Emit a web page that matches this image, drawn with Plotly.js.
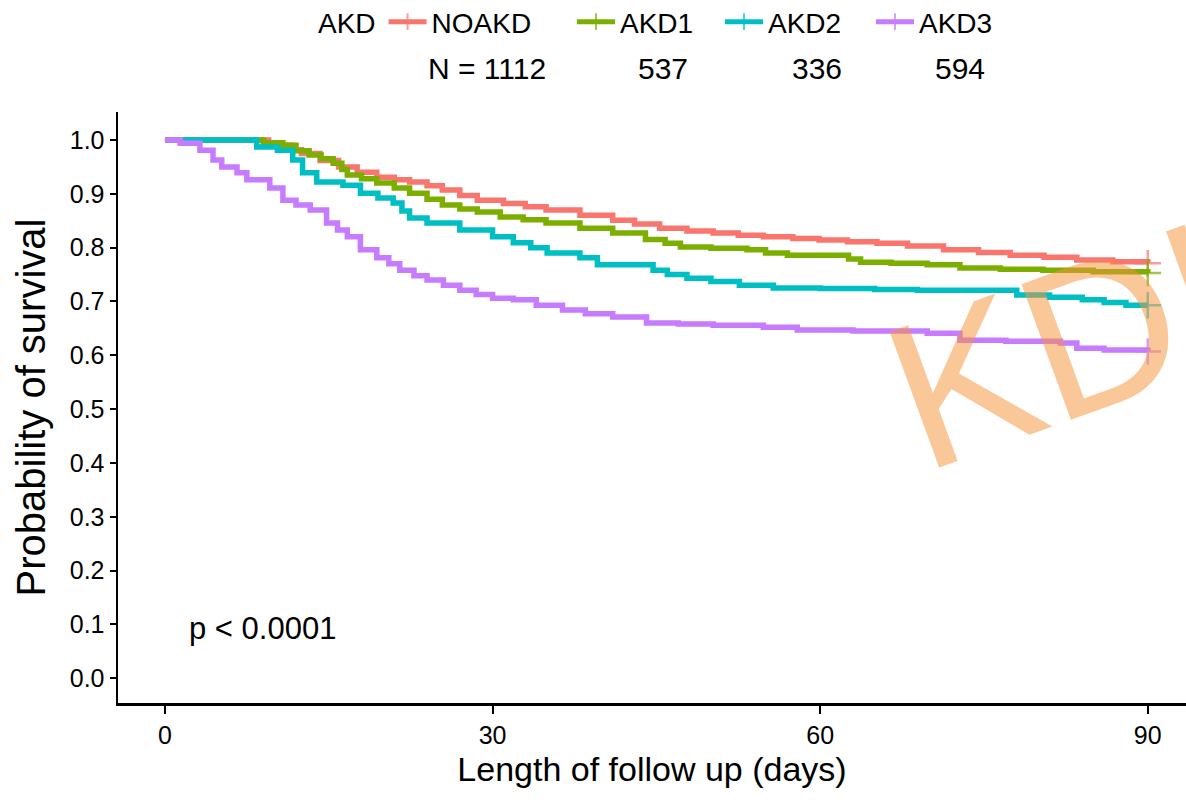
<!DOCTYPE html>
<html>
<head>
<meta charset="utf-8">
<script src="https://cdn.plot.ly/plotly-3.0.1.min.js"></script>
<style>html,body{margin:0;padding:0;background:#fff;}#chart{width:1186px;height:802px;}</style>
</head>
<body>
<div id="chart"></div>
<script>
// ---- data ----
var groupNames = ["NOAKD", "AKD1", "AKD2", "AKD3"];
var groupN = ["N = 1112", "537", "336", "594"];
var groupColors = ["#F8766D", "#7CAE00", "#00BFC4", "#C77CFF"];

var noakdTime = [0, 8.0, 9.5, 10.6, 11.6, 12.5, 14.2, 15.9, 17.6, 19.4, 21.0, 22.4, 24.0, 25.4, 27.0, 28.6, 31.0, 33.0, 34.9, 38.0, 41.0, 43.0, 45.3, 47.8, 50.2, 52.5, 54.8, 57.5, 59.9, 62.5, 65.2, 68.0, 71.3, 74.5, 77.4, 80.5, 83.5, 86.8, 90];
var noakdSurv = [1.0, 1.0, 0.995, 0.99, 0.982, 0.975, 0.962, 0.95, 0.94, 0.931, 0.926, 0.922, 0.915, 0.907, 0.897, 0.888, 0.882, 0.876, 0.87, 0.86, 0.851, 0.844, 0.836, 0.831, 0.827, 0.823, 0.82, 0.817, 0.814, 0.811, 0.808, 0.803, 0.796, 0.791, 0.786, 0.782, 0.777, 0.774, 0.771];

var akd1Time = [0, 7.8, 9.0, 10.8, 12.0, 13.2, 14.3, 15.4, 16.2, 16.7, 18.0, 19.4, 21.0, 22.4, 24.0, 25.4, 27.0, 28.6, 30.7, 32.8, 34.9, 38.0, 41.0, 44.0, 45.8, 47.2, 50.0, 53.3, 55.0, 57.0, 61.5, 62.6, 63.7, 66.5, 69.8, 72.8, 76.5, 80.4, 85.0, 90];
var akd1Surv = [1.0, 1.0, 0.995, 0.99, 0.98, 0.972, 0.965, 0.957, 0.945, 0.935, 0.928, 0.92, 0.911, 0.901, 0.89, 0.879, 0.872, 0.866, 0.857, 0.852, 0.846, 0.836, 0.827, 0.815, 0.808, 0.801, 0.799, 0.796, 0.79, 0.786, 0.786, 0.779, 0.773, 0.771, 0.768, 0.762, 0.76, 0.758, 0.755, 0.753];

var akd2Time = [0, 7.5, 8.4, 10.3, 11.7, 12.6, 13.9, 16.3, 17.9, 19.5, 20.9, 21.7, 22.4, 24.0, 27.0, 30.0, 31.9, 33.5, 35.0, 38.0, 39.6, 44.7, 46.0, 47.8, 50.0, 52.6, 55.7, 60.0, 65.0, 68.9, 75.5, 78.0, 81.0, 84.0, 86.0, 88.0, 90];
var akd2Surv = [1.0, 1.0, 0.987, 0.981, 0.963, 0.939, 0.922, 0.916, 0.901, 0.892, 0.883, 0.868, 0.855, 0.846, 0.833, 0.82, 0.809, 0.8, 0.79, 0.781, 0.768, 0.758, 0.75, 0.743, 0.737, 0.73, 0.725, 0.724, 0.722, 0.721, 0.721, 0.712, 0.708, 0.703, 0.698, 0.693, 0.693];

var akd3Time = [0, 1.4, 3.2, 4.4, 5.2, 6.6, 7.5, 9.6, 10.8, 12.0, 13.3, 14.8, 15.8, 16.7, 17.9, 19.4, 20.5, 21.5, 22.8, 24.0, 25.5, 27.0, 28.5, 30.0, 31.9, 34.0, 36.4, 38.5, 41.0, 44.1, 47.0, 50.2, 54.8, 57.9, 63.0, 69.8, 72.8, 77.0, 82.0, 83.5, 86.0, 90];
var akd3Surv = [1.0, 0.994, 0.981, 0.963, 0.95, 0.939, 0.926, 0.911, 0.888, 0.879, 0.87, 0.846, 0.833, 0.82, 0.796, 0.781, 0.77, 0.758, 0.748, 0.74, 0.73, 0.721, 0.713, 0.706, 0.703, 0.693, 0.684, 0.677, 0.671, 0.66, 0.658, 0.656, 0.652, 0.647, 0.645, 0.641, 0.628, 0.626, 0.623, 0.613, 0.61, 0.607];

var xTickVals = [0, 30, 60, 90];
var yTickVals = [0, 0.1, 0.2, 0.3, 0.4, 0.5, 0.6, 0.7, 0.8, 0.9, 1.0];
var yTickText = ["0.0", "0.1", "0.2", "0.3", "0.4", "0.5", "0.6", "0.7", "0.8", "0.9", "1.0"];
var pValueText = "p < 0.0001";
var xTitle = "Length of follow up (days)";
var yTitle = "Probability of survival";
var legendTitle = "AKD";
var watermark = "KDIGO";

// ---- build ----
var FONT = "Liberation Sans, Arial, sans-serif";
var times = [noakdTime, akd1Time, akd2Time, akd3Time];
var survs = [noakdSurv, akd1Surv, akd2Surv, akd3Surv];
var legendIds = ["legend", "legend2", "legend3", "legend4"];

var traces = [];
for (var i = 0; i < groupNames.length; i++) {
  var sizes = times[i].map(function (t, k, arr) { return k === arr.length - 1 ? 19 : 0; });
  traces.push({
    type: "scatter",
    mode: "lines+markers",
    name: groupNames[i],
    legend: legendIds[i],
    x: times[i],
    y: survs[i],
    line: { shape: "hv", color: groupColors[i], width: 5.5 },
    marker: { symbol: "cross-thin", size: sizes, color: groupColors[i],
              line: { color: groupColors[i], width: 2.5 } },
    hoverinfo: "x+y+name"
  });
}

function mkLegend(xpx, withTitle) {
  var l = {
    orientation: "h",
    xref: "container", yref: "container",
    x: xpx / 1186, y: 1 - 22 / 802,
    xanchor: "left", yanchor: "middle",
    font: { family: FONT, size: 28, color: "#000" },
    bgcolor: "rgba(0,0,0,0)",
    itemsizing: "constant",
    itemwidth: 38
  };
  if (withTitle) l.title = { text: legendTitle, side: "left", font: { family: FONT, size: 28, color: "#000" } };
  return l;
}

var nCenters = [487, 663, 817, 960];
var annotations = [];
for (var j = 0; j < groupN.length; j++) {
  annotations.push({
    xref: "paper", yref: "paper",
    x: (nCenters[j] - 118) / 1068, y: (703 - 68) / 591,
    xanchor: "center", yanchor: "middle",
    text: groupN[j], showarrow: false,
    font: { family: FONT, size: 30, color: "#000" }
  });
}
annotations.push({
  xref: "x", yref: "y", x: 2.0, y: 0.093,
  xanchor: "left", yanchor: "middle",
  text: pValueText, showarrow: false,
  font: { family: FONT, size: 31, color: "#000" }
});
annotations.push({
  xref: "paper", yref: "paper", x: 1.029, y: 0.699,
  xanchor: "center", yanchor: "middle",
  text: watermark, showarrow: false, textangle: -20,
  font: { family: FONT, size: 210, color: "rgba(245,148,60,0.52)" }
});

var layout = {
  width: 1186, height: 802,
  margin: { l: 118, r: 0, t: 112, b: 99 },
  paper_bgcolor: "#fff", plot_bgcolor: "#fff",
  font: { family: FONT, color: "#000" },
  showlegend: true,
  legend: mkLegend(316, true),
  legend2: mkLegend(572, false),
  legend3: mkLegend(720, false),
  legend4: mkLegend(871, false),
  xaxis: {
    range: [-4.3, 93.5], tickvals: xTickVals, ticktext: xTickVals.map(String),
    showgrid: false, zeroline: false, showline: true, linecolor: "#000", linewidth: 2.5,
    ticks: "outside", ticklen: 8, tickwidth: 2, tickcolor: "#000",
    tickfont: { family: FONT, size: 25, color: "#000" },
    title: { text: xTitle, font: { family: FONT, size: 34, color: "#000" }, standoff: 10 },
    automargin: false
  },
  yaxis: {
    range: [-0.046, 1.052], tickvals: yTickVals, ticktext: yTickText,
    showgrid: false, zeroline: false, showline: true, linecolor: "#000", linewidth: 2.5,
    ticks: "outside", ticklen: 6, tickwidth: 2, tickcolor: "#000",
    tickfont: { family: FONT, size: 25, color: "#000" },
    title: { text: yTitle, font: { family: FONT, size: 40, color: "#000" }, standoff: 12 },
    automargin: false
  },
  annotations: annotations
};

Plotly.newPlot("chart", traces, layout, { displayModeBar: false, staticPlot: true });
</script>
</body>
</html>
